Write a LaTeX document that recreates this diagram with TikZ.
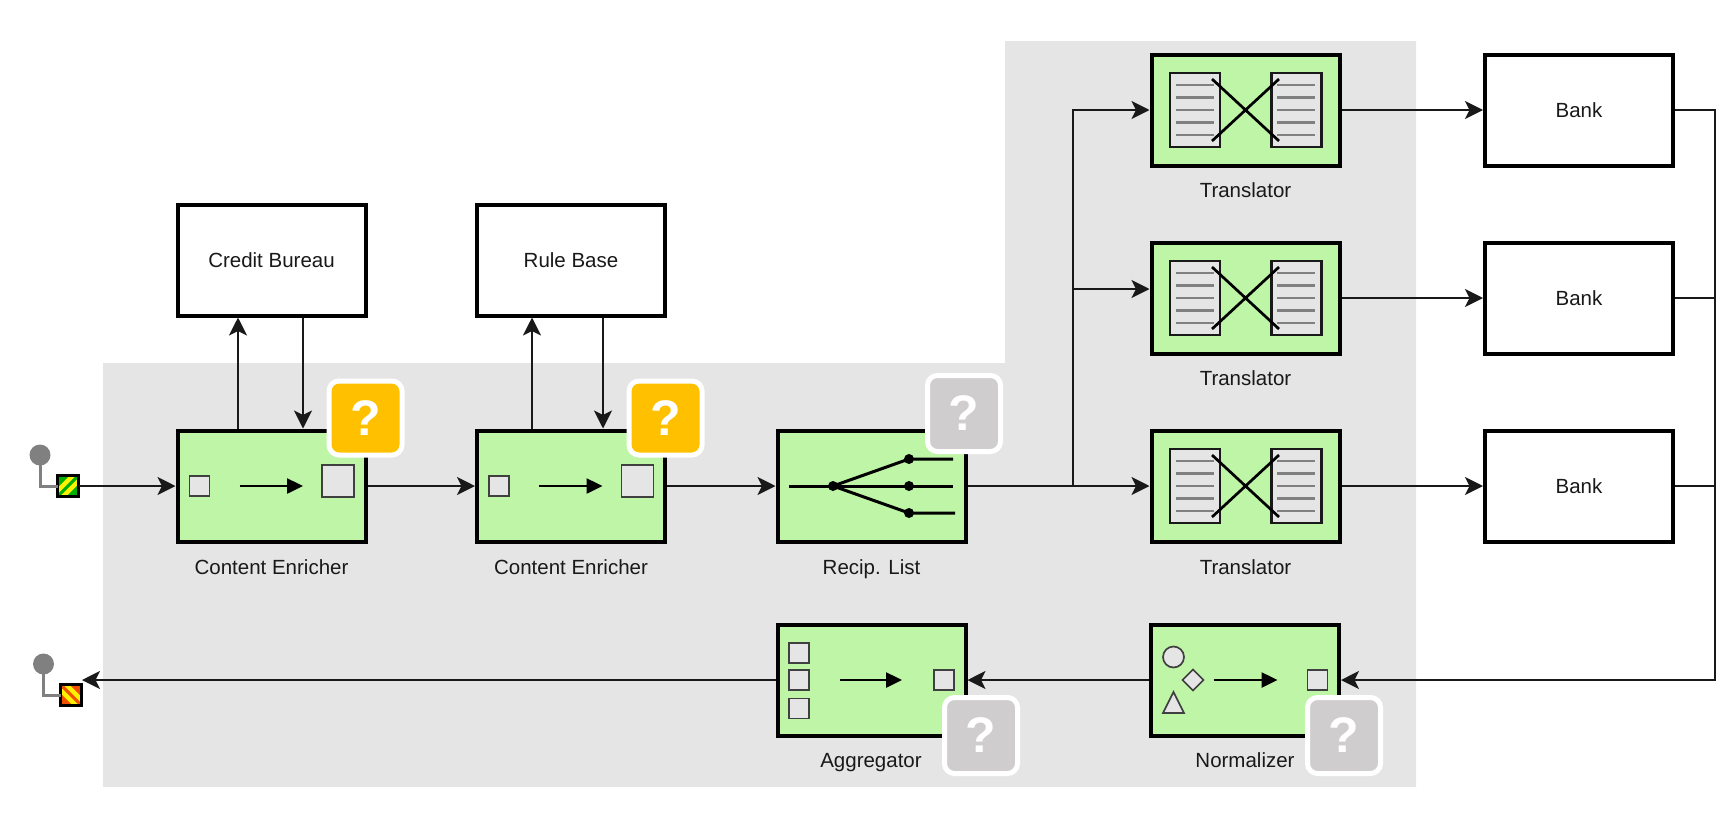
\documentclass[tikz,border=0pt]{standalone}
\usepackage{fontspec}
\setmainfont{Liberation Sans}
\usetikzlibrary{arrows.meta,shapes.geometric}
\definecolor{eipgreen}{HTML}{BFF5A6}
\definecolor{zonegray}{HTML}{E5E5E5}
\definecolor{tagorange}{HTML}{FFC000}
\definecolor{taggray}{HTML}{CFCDCE}
\definecolor{portgreen}{HTML}{00B000}
\definecolor{portred}{HTML}{F05000}
\begin{document}
\begin{tikzpicture}[x=1pt, y=-1pt,
        every node/.style={inner sep=0pt, outer sep=0pt, font=\fontsize{20.5}{24}\selectfont, text=black!90},
        eipbox/.style={draw=black, fill=eipgreen, line width=4pt, minimum width=188pt, minimum height=111pt, outer sep=2pt},
        extbox/.style={draw=black, fill=white, line width=4pt, minimum width=188pt, minimum height=111pt, outer sep=2pt},
        caption/.style={text height=15pt, text depth=4pt},
        flow/.style={draw=black!90, line width=2pt, -{Stealth[length=18pt,width=18pt,inset=4.5pt]}},
        wire/.style={draw=black!90, line width=2pt},
        inner/.style={draw=black, line width=2.5pt, -{Triangle[length=16pt,width=15pt]}},
        msg/.style={draw=black!75, fill=zonegray, line width=1.7pt, minimum size=20pt},
        doc/.style={draw=black!90, fill=zonegray, line width=2.7pt, minimum width=50pt, minimum height=74pt},
        tag/.style={rectangle, draw=white, line width=5pt, rounded corners=10pt, minimum width=73pt,
            font=\fontsize{50}{50}\bfseries\selectfont, text=white},
        port/.style={draw=black, line width=3pt, minimum size=21pt},
        dot/.style={circle, fill=black, minimum size=10pt},
        ball/.style={circle, fill=black!50, minimum size=21pt},
        stem/.style={draw=black!50, line width=3pt}]
        \useasboundingbox (0,0) rectangle (1735,815);

        % gray zone behind the flow
        \fill[zonegray] (103,363) -- (1005,363) -- (1005,41) -- (1416,41) -- (1416,787) -- (103,787) -- cycle;

        % outside systems
        \node[extbox] (credit) at (271.5,260) {Credit Bureau};
        \node[extbox] (rules) at (571,260) {Rule Base};
        \foreach \name/\y in {bankA/110, bankB/298, bankC/486}
            \node[extbox] (\name) at (1579,\y) {Bank};

        % main boxes
        \node[eipbox] (enrichA) at (271.5,486) {};
        \node[eipbox] (enrichB) at (571,486) {};
        \node[eipbox] (recip) at (871.5,486) {};
        \node[eipbox] (aggr) at (871.5,680) {};
        \node[eipbox] (normal) at (1245,680) {};
        \foreach \name/\y in {transA/110, transB/298, transC/486}
            \node[eipbox] (\name) at (1245.5,\y) {};

        % captions
        \node[caption] (capA) at (271.5,568.5) {Content Enricher};
        \node[caption] (capB) at (571,568.5) {Content Enricher};
        \node[caption] (capC) at (871.5,568.5) {Recip. List};
        \node[caption] (capD) at (871,761.5) {Aggregator};
        \node[caption] (capE) at (1245,761.5) {Normalizer};
        \foreach \name/\y in {capF/191.5, capG/379.5, capH/568.5}
            \node[caption] (\name) at (1245.5,\y) {Translator};

        % enricher glyphs
        \node[msg] (smallA) at (199.5,486) {};
        \node[msg, minimum size=32pt] (bigA) at (338,481) {};
        \draw[inner, shorten <=30pt, shorten >=19pt] (smallA.east) -- (smallA.east -| bigA.west);
        \node[msg] (smallB) at (499,486) {};
        \node[msg, minimum size=32pt] (bigB) at (637.5,481) {};
        \draw[inner, shorten <=30pt, shorten >=19pt] (smallB.east) -- (smallB.east -| bigB.west);

        % recipient list glyph
        \node[dot] (hub) at (833,486) {};
        \node[dot] (tipA) at (909,459) {};
        \node[dot] (tipB) at (909,486) {};
        \node[dot] (tipC) at (909,513) {};
        \coordinate (inHub) at (789,486);
        \coordinate (endA) at (953,459);
        \coordinate (endB) at (953,486);
        \coordinate (endC) at (955,513);
        \draw[wire, line width=3pt, black] (inHub) -- (endB);
        \draw[wire, line width=3pt, black] (hub.center) -- (tipA.center) -- (endA);
        \draw[wire, line width=3pt, black] (hub.center) -- (tipC.center) -- (endC);

        % translator glyphs
        \foreach \name/\y in {transA/110, transB/298, transC/486} {
            \node[doc] (\name L) at (1195,\y) {};
            \node[doc] (\name R) at (1296.5,\y) {};
            \foreach \k in {-25,-12.5,0,12.5,25} {
                \draw[black!50, line width=2.7pt] (1176,\y+\k) -- (1214,\y+\k);
                \draw[black!50, line width=2.7pt] (1277,\y+\k) -- (1315,\y+\k);
            }
            \draw[black, line width=2.7pt] (1212,\y-31) -- (1279,\y+31);
            \draw[black, line width=2.7pt] (1212,\y+31) -- (1279,\y-31);
        }

        % aggregator glyph
        \node[msg] (partA) at (799,653) {};
        \node[msg] (partB) at (799,680) {};
        \node[msg] (partC) at (799,708.5) {};
        \node[msg] (wholeA) at (944,680) {};
        \draw[inner, shorten <=31pt, shorten >=32pt] (partB.east) -- (wholeA.west);

        % normalizer glyph
        \node[msg, circle, minimum size=21pt] (round) at (1173.5,657) {};
        \node[msg, diamond, minimum width=21pt, minimum height=21pt] (kite) at (1193,680) {};
        \draw[draw=black!75, fill=zonegray, line width=1.7pt] (1163,713) -- (1173.5,692) -- (1184,713) -- cycle;
        \node[msg] (wholeB) at (1317.5,680) {};
        \draw[inner, shorten <=10pt, shorten >=30pt] (kite.east) -- (wholeB.west);

        % endpoints
        \node[ball] (ballIn) at (40,455) {};
        \node[port, fill=portgreen, path picture={
            \foreach \d in {-5.5,5.5}
                \draw[yellow, line width=4.5pt] ([shift={(\d pt-14pt,-14pt)}]path picture bounding box.center) -- ([shift={(\d pt+14pt,14pt)}]path picture bounding box.center);
            }] (portIn) at (68,486) {};
        \draw[stem] (ballIn.center) |- (portIn.west);
        \node[ball] (ballOut) at (43.5,664) {};
        \node[port, fill=portred, path picture={
            \foreach \d in {-5.5,5.5}
                \draw[yellow, line width=4.5pt] ([shift={(\d pt-14pt,14pt)}]path picture bounding box.center) -- ([shift={(\d pt+14pt,-14pt)}]path picture bounding box.center);
            }] (portOut) at (71,695) {};
        \draw[stem] (ballOut.center) |- (portOut.west);
        \coordinate (outTip) at (82,680);

        % connectors
        \draw[flow] (portIn.east) -- (enrichA.west);
        \draw[flow] ([xshift=-33.5pt]enrichA.north) -- ([xshift=-33.5pt]credit.south);
        \draw[flow] ([xshift=31.5pt]credit.south) -- ([xshift=31.5pt]enrichA.north);
        \draw[flow] (enrichA.east) -- (enrichB.west);
        \draw[flow] ([xshift=-39pt]enrichB.north) -- ([xshift=-39pt]rules.south);
        \draw[flow] ([xshift=32pt]rules.south) -- ([xshift=32pt]enrichB.north);
        \draw[flow] (enrichB.east) -- (recip.west);
        \coordinate (busL) at (1073,486);
        \coordinate (busLb) at (1073,289);
        \coordinate (busR) at (1715,680);
        \draw[flow] (recip.east) -- (transC.west);
        \draw[flow] (busL) |- (transA.west);
        \draw[flow] (busLb) -- (busLb -| transB.west);
        \draw[flow] (transA.east) -- (bankA.west);
        \draw[flow] (transB.east) -- (bankB.west);
        \draw[flow] (transC.east) -- (bankC.west);
        \draw[flow] (bankA.east) -| (busR) -- (normal.east);
        \draw[wire] (bankB.east) -- (bankB.east -| busR);
        \draw[wire] (bankC.east) -- (bankC.east -| busR);
        \draw[flow] (normal.west) -- (aggr.east);
        \draw[flow] (aggr.west) -- (outTip);

        % question tags
        \node[tag, fill=tagorange, minimum height=74pt] (tagA) at (365.5,418) {\raisebox{-2pt}{?}};
        \node[tag, fill=tagorange, minimum height=74pt] (tagB) at (665.5,418) {\raisebox{-2pt}{?}};
        \node[tag, fill=taggray, minimum height=76pt] (tagC) at (964,413.5) {\raisebox{-2pt}{?}};
        \node[tag, fill=taggray, minimum height=76pt] (tagD) at (981,735.5) {\raisebox{-2pt}{?}};
        \node[tag, fill=taggray, minimum height=76pt] (tagE) at (1344,735.5) {\raisebox{-2pt}{?}};
      \end{tikzpicture}
\end{document}
